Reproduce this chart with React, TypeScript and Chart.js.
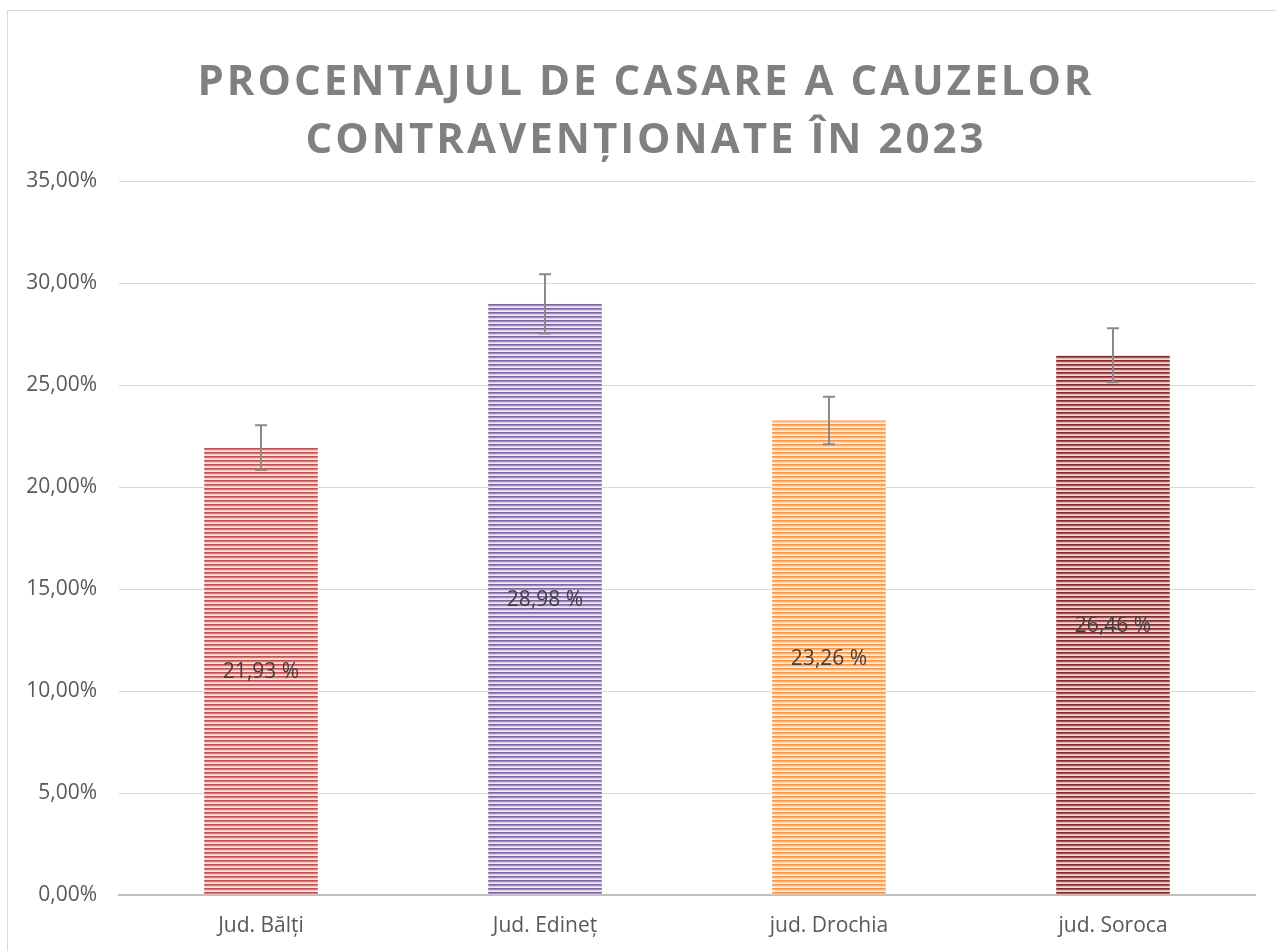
import React, { useEffect, useRef } from "react";
import { Chart, registerables } from "chart.js";

Chart.register(...registerables);

const categories = ["Jud. Bălți", "Jud. Edineț", "jud. Drochia", "jud. Soroca"];
const values = [21.93, 28.98, 23.26, 26.46];
const errorAmounts = [1.1, 1.45, 1.16, 1.32];
const titleLines = ["PROCENTAJUL DE CASARE A CAUZELOR", "CONTRAVENȚIONATE ÎN 2023"];
const mainColors = ["#C0504D", "#8064A2", "#F79646", "#7B2C2A"];
const lightColors = ["#F2C9C8", "#DCD2E8", "#FDD8B8", "#E0B5B4"];

const FONT = "'Open Sans', 'DejaVu Sans', sans-serif";

function makePattern(main: string, light: string): CanvasPattern | string {
  const c = document.createElement("canvas");
  c.width = 4;
  c.height = 4;
  const g = c.getContext("2d");
  if (!g) return main;
  g.fillStyle = main;
  g.fillRect(0, 0, 4, 2);
  g.fillStyle = light;
  g.fillRect(0, 2, 4, 2);
  g.globalAlpha = 0.5;
  g.fillStyle = "#FFFFFF";
  g.fillRect(0, 3, 4, 1);
  g.globalAlpha = 0.25;
  g.fillRect(0, 1, 4, 1);
  const p = g.createPattern(c, "repeat");
  return p || main;
}

const fmt = (v: number) => v.toFixed(2).replace(".", ",");

const extrasPlugin = {
  id: "extras",
  afterDatasetsDraw(chart: any) {
    const ctx = chart.ctx;
    const meta = chart.getDatasetMeta(0);
    const y = chart.scales.y;
    ctx.save();
    ctx.strokeStyle = "#8A8A8A";
    ctx.lineWidth = 2;
    meta.data.forEach((bar: any, i: number) => {
      const v = values[i];
      const e = errorAmounts[i];
      const yTop = y.getPixelForValue(v + e);
      const yBot = y.getPixelForValue(v - e);
      const x = bar.x;
      ctx.beginPath();
      ctx.moveTo(x, yTop);
      ctx.lineTo(x, yBot);
      ctx.moveTo(x - 6, yTop);
      ctx.lineTo(x + 6, yTop);
      ctx.moveTo(x - 6, yBot);
      ctx.lineTo(x + 6, yBot);
      ctx.stroke();
    });
    ctx.fillStyle = "#404040";
    ctx.font = `21px ${FONT}`;
    ctx.textAlign = "center";
    ctx.textBaseline = "middle";
    meta.data.forEach((bar: any, i: number) => {
      const yMid = y.getPixelForValue(values[i] / 2);
      ctx.fillText(fmt(values[i]) + " %", bar.x, yMid + 1);
    });
    ctx.restore();
  },
  afterDraw(chart: any) {
    const ctx = chart.ctx;
    ctx.save();
    ctx.fillStyle = "#808080";
    ctx.font = `bold 42px ${FONT}`;
    (ctx as any).letterSpacing = "3px";
    ctx.textAlign = "center";
    ctx.textBaseline = "alphabetic";
    ctx.fillText(titleLines[0], 646, 95);
    ctx.fillText(titleLines[1], 646, 153);
    ctx.restore();
  },
};

export default function App() {
  const ref = useRef<HTMLCanvasElement | null>(null);

  useEffect(() => {
    document.body.style.margin = "0";
    const canvas = ref.current;
    if (!canvas) return;
    const bgs = mainColors.map((m, i) => makePattern(m, lightColors[i]));
    const chart = new Chart(canvas, {
      type: "bar",
      data: {
        labels: categories,
        datasets: [
          {
            data: values,
            backgroundColor: bgs as any,
            borderWidth: 0,
            barPercentage: 0.4,
            categoryPercentage: 1,
          },
        ],
      },
      options: {
        responsive: false,
        animation: false,
        layout: { padding: { top: 181, right: 21, left: 0, bottom: 0 } },
        plugins: {
          legend: { display: false },
          title: { display: false },
          tooltip: { enabled: false },
        },
        scales: {
          x: {
            grid: { display: false, drawTicks: false },
            border: { color: "#BFBFBF", width: 2 },
            ticks: {
              color: "#595959",
              font: { family: FONT, size: 21 },
              padding: 18,
            },
            afterFit(scale: any) {
              scale.height = 56;
            },
          },
          y: {
            min: 0,
            max: 35,
            grid: { color: "#D9D9D9", lineWidth: 1, drawTicks: false },
            border: { display: false },
            ticks: {
              stepSize: 5,
              color: "#595959",
              font: { family: FONT, size: 21 },
              padding: 22,
              callback: (v: any) => fmt(Number(v)) + "%",
            },
            afterFit(scale: any) {
              scale.width = 119;
            },
          },
        },
      },
      plugins: [extrasPlugin],
    });
    return () => chart.destroy();
  }, []);

  return (
    <div style={{ position: "relative", width: 1276, height: 951, overflow: "hidden", background: "#FFFFFF" }}>
      <div
        style={{
          position: "absolute",
          left: 7,
          top: 10,
          width: 1400,
          height: 1100,
          border: "1px solid #D9D9D9",
          boxSizing: "border-box",
        }}
      />
      <canvas ref={ref} width={1276} height={951} style={{ position: "absolute", left: 0, top: 0 }} />
    </div>
  );
}
